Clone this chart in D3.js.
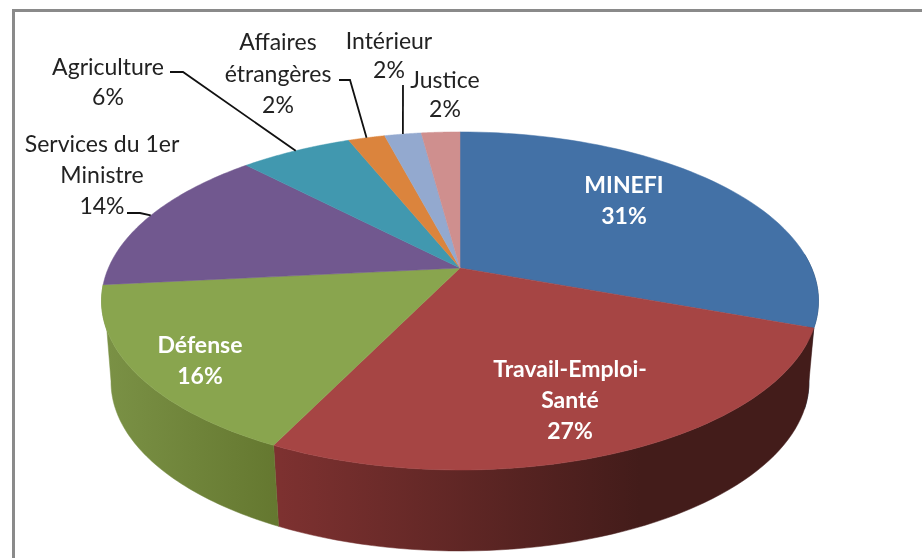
<!DOCTYPE html>
<html>
<head>
<meta charset="utf-8">
<script src="https://cdn.jsdelivr.net/npm/d3@7"></script>
<style>
  html, body { margin: 0; padding: 0; background: #fff; }
  svg { display: block; }
  text { font-family: Lato, "Open Sans", sans-serif; font-size: 23px; text-anchor: middle; }
  .inside { fill: #fff; font-weight: 700; }
  .outside { fill: #222; }
</style>
</head>
<body>
<svg id="container" width="922" height="558"></svg>
<script>
const categories = ['MINEFI', 'Travail-Emploi-Santé', 'Défense', 'Services du 1er Ministre', 'Agriculture', 'Affaires étrangères', 'Intérieur', 'Justice'];
const shares = [30.6, 26.6, 16.2, 14.4, 6.1, 2.0, 2.0, 2.1];
const topColors = ['#4371a6', '#a64544', '#89a54e', '#71588f', '#4198af', '#db843d', '#93a9cf', '#cf8f8e'];
const sideFrom = ['#1d3d5c', '#7d3130', '#7b9246', '#4a3a60', '#2b6475', '#8f5628', '#5f6f88', '#885e5d'];
const sideTo = ['#1d3d5c', '#431c1a', '#64772f', '#4a3a60', '#2b6475', '#8f5628', '#5f6f88', '#885e5d'];

// label lines and where they sit, same order as categories
const labelLines = [['MINEFI'], ['Travail-Emploi-', 'Santé'], ['Défense'], ['Services du 1er', 'Ministre'], ['Agriculture'], ['Affaires', 'étrangères'], ['Intérieur'], ['Justice']];
const labelX = [624, 570, 200, 102, 108, 278, 389, 445];
const labelY = [193, 377, 353, 152, 75, 50, 49, 88];
const lineGap = [31, 31, 31, 31, 30, 31.5, 29, 29];

// elbow start of the leader lines, the far end comes from the slice
const leaders = [
  { slice: 3, start: [[127, 213], [140, 213]] },
  { slice: 4, start: [[170, 72], [183, 72]] },
  { slice: 5, start: [[339, 80], [350, 80]] },
  { slice: 6, start: [[403, 85]] },
];

const svg = d3.select('#container');

// tilted disc: k is the perspective, front of the disc is bigger than the back
const cx = 460, cyTop = 268, cyBottom = 349;
const rx = 351.6, ry = 162.6, k = 0.195;
const bottomWidth = 0.9735;

const deg = (a) => (a * Math.PI) / 180;
// where the lower rim turns away, the wall is hidden outside this range
const frontFrom = deg(101), frontTo = deg(259);

const project = (angle, cy, sx) => {
  const u = Math.sin(angle), v = -Math.cos(angle);
  const w = 1 - k * v;
  return [cx + (sx * rx * u) / w, cy + (ry * v) / w];
};

const arcPoints = (a0, a1, cy, sx) =>
  d3.range(0, 61).map((i) => project(a0 + ((a1 - a0) * i) / 60, cy, sx));

const slices = d3.pie().sort(null)(shares);
const line = d3.line();
const defs = svg.append('defs');

// frame, only top and left show in the original
svg.append('rect').attr('x', 12).attr('y', 9).attr('width', 922).attr('height', 3).attr('fill', '#8a8a8a');
svg.append('rect').attr('x', 12).attr('y', 9).attr('width', 3).attr('height', 549).attr('fill', '#8a8a8a');

const blur = defs.append('filter').attr('id', 'soft');
blur.append('feGaussianBlur').attr('stdDeviation', 0.4);

slices.forEach((d, i) => {
  defs.append('linearGradient')
    .attr('id', 'side' + i)
    .attr('gradientUnits', 'userSpaceOnUse')
    .attr('x1', i === 1 ? 280 : 100).attr('x2', i === 1 ? 640 : 282)
    .attr('y1', 0).attr('y2', 0)
    .selectAll('stop')
    .data([[0, sideFrom[i]], [1, sideTo[i]]])
    .join('stop')
    .attr('offset', (s) => s[0])
    .attr('stop-color', (s) => s[1]);
});

// wall of the disc. the red wall starts at the tangent so blue is only a thin rim
svg.append('g')
  .selectAll('path')
  .data(slices)
  .join('path')
  .attr('fill', (d, i) => `url(#side${i})`)
  .attr('stroke', (d, i) => `url(#side${i})`)
  .attr('stroke-width', 0.5)
  .attr('d', (d, i) => {
    if (d.startAngle >= frontTo) return null;
    const topFrom = Math.max(d.startAngle, deg(85));
    const topTo = Math.min(d.endAngle, deg(272));
    const lowFrom = i === 1 ? frontFrom : Math.max(d.startAngle, frontFrom);
    const lowTo = Math.max(lowFrom, Math.min(d.endAngle, frontTo));
    return line([...arcPoints(topFrom, topTo, cyTop, 1), ...arcPoints(lowFrom, lowTo, cyBottom, bottomWidth).reverse()]) + 'Z';
  });

svg.append('g')
  .selectAll('path')
  .data(slices)
  .join('path')
  .attr('fill', (d, i) => topColors[i])
  .attr('stroke', (d, i) => topColors[i])
  .attr('stroke-width', 0.5)
  .attr('d', (d) => line([[cx, cyTop], ...arcPoints(d.startAngle, d.endAngle, cyTop, 1)]) + 'Z');

svg.append('g')
  .selectAll('path')
  .data(leaders)
  .join('path')
  .attr('fill', 'none')
  .attr('stroke', '#111')
  .attr('stroke-width', 1.8)
  .attr('d', (d) => {
    const s = slices[d.slice];
    return line([...d.start, project((s.startAngle + s.endAngle) / 2, cyTop, 1)]);
  });

const labels = svg.append('g')
  .attr('filter', 'url(#soft)')
  .selectAll('text')
  .data(categories)
  .join('text')
  .attr('class', (d, i) => (i < 3 ? 'inside' : 'outside'))
  .attr('y', (d, i) => labelY[i]);

labels.each(function (d, i) {
  const rows = [...labelLines[i], Math.round(shares[i]) + '%'];
  d3.select(this)
    .selectAll('tspan')
    .data(rows)
    .join('tspan')
    .attr('x', labelX[i])
    .attr('y', (r, j) => labelY[i] + j * lineGap[i])
    .text((r) => r);
});
</script>
</body>
</html>
